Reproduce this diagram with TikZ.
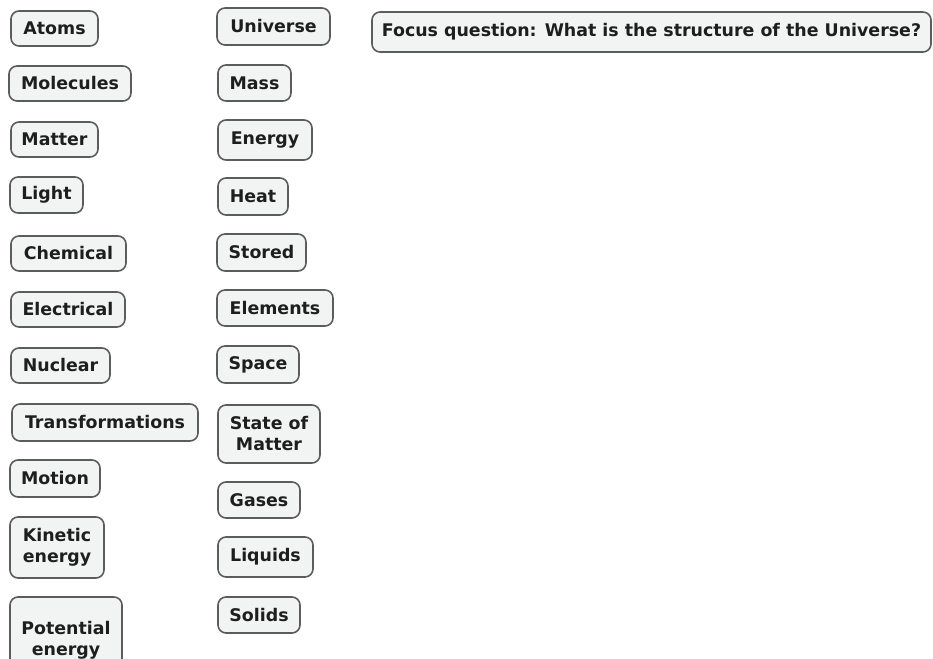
\documentclass[tikz,border=0pt]{standalone}
\usepackage{fontspec}
\setmainfont{DejaVu Sans}
\definecolor{boxline}{HTML}{5C5C5C}
\definecolor{boxfill}{HTML}{F2F3F3}
\definecolor{boxtext}{HTML}{1E1E1E}
\begin{document}
\begin{tikzpicture}[x=1pt,y=-1pt,
		concept/.style={draw=boxline, fill=boxfill, line width=1.6pt, rounded corners=8pt,
			align=center, inner sep=0pt, text=boxtext,
			font=\bfseries\fontsize{17.4}{21}\selectfont}]
				\useasboundingbox (0,0) rectangle (933,658);
				% left column
				\node[concept, minimum width=87pt, minimum height=35pt] (atoms) at (54.5,28.5) {Atoms};
				\node[concept, minimum width=122pt, minimum height=35pt] (molecules) at (70,83.5) {Molecules};
				\node[concept, minimum width=87pt, minimum height=35pt] (matter) at (54.5,139.5) {Matter};
				\node[concept, minimum width=73pt, minimum height=36pt] (light) at (46.5,195) {Light};
				\node[concept, minimum width=115pt, minimum height=35pt] (chemical) at (68.5,253.5) {Chemical};
				\node[concept, minimum width=114pt, minimum height=35pt] (electrical) at (68,309.5) {Electrical};
				\node[concept, minimum width=99pt, minimum height=35pt] (nuclear) at (60.5,365.5) {Nuclear};
				\node[concept, minimum width=186pt, minimum height=37pt] (transformations) at (105,422.5) {Transformations};
				\node[concept, minimum width=90pt, minimum height=37pt] (motion) at (55,478.5) {Motion};
				\node[concept, minimum width=94pt, minimum height=61pt] (kinetic) at (57,547.5) {Kinetic\\energy};
				\node[concept, minimum width=112pt, minimum height=86pt] (potential) at (66,640) {Potential\\energy};
				% right column
				\node[concept, minimum width=113pt, minimum height=37pt] (universe) at (273.5,26.5) {Universe};
				\node[concept, minimum width=73pt, minimum height=36pt] (mass) at (254.5,83) {Mass};
				\node[concept, minimum width=94pt, minimum height=40pt] (energy) at (265,140) {Energy};
				\node[concept, minimum width=70pt, minimum height=37pt] (heat) at (253,196.5) {Heat};
				\node[concept, minimum width=89pt, minimum height=37pt] (stored) at (261.5,252.5) {Stored};
				\node[concept, minimum width=116pt, minimum height=36pt] (elements) at (275,308) {Elements};
				\node[concept, minimum width=82pt, minimum height=37pt] (space) at (258,364.5) {Space};
				\node[concept, minimum width=102pt, minimum height=58pt] (state) at (269,434) {State of\\Matter};
				\node[concept, minimum width=82pt, minimum height=36pt] (gases) at (259,500) {Gases};
				\node[concept, minimum width=95pt, minimum height=40pt] (liquids) at (265.5,557) {Liquids};
				\node[concept, minimum width=82pt, minimum height=36pt] (solids) at (259,615) {Solids};
				% focus question
				\node[concept, minimum width=559pt, minimum height=40pt] (focus) at (651.5,32) {Focus question: What is the structure of the Universe?};
			\end{tikzpicture}
\end{document}
